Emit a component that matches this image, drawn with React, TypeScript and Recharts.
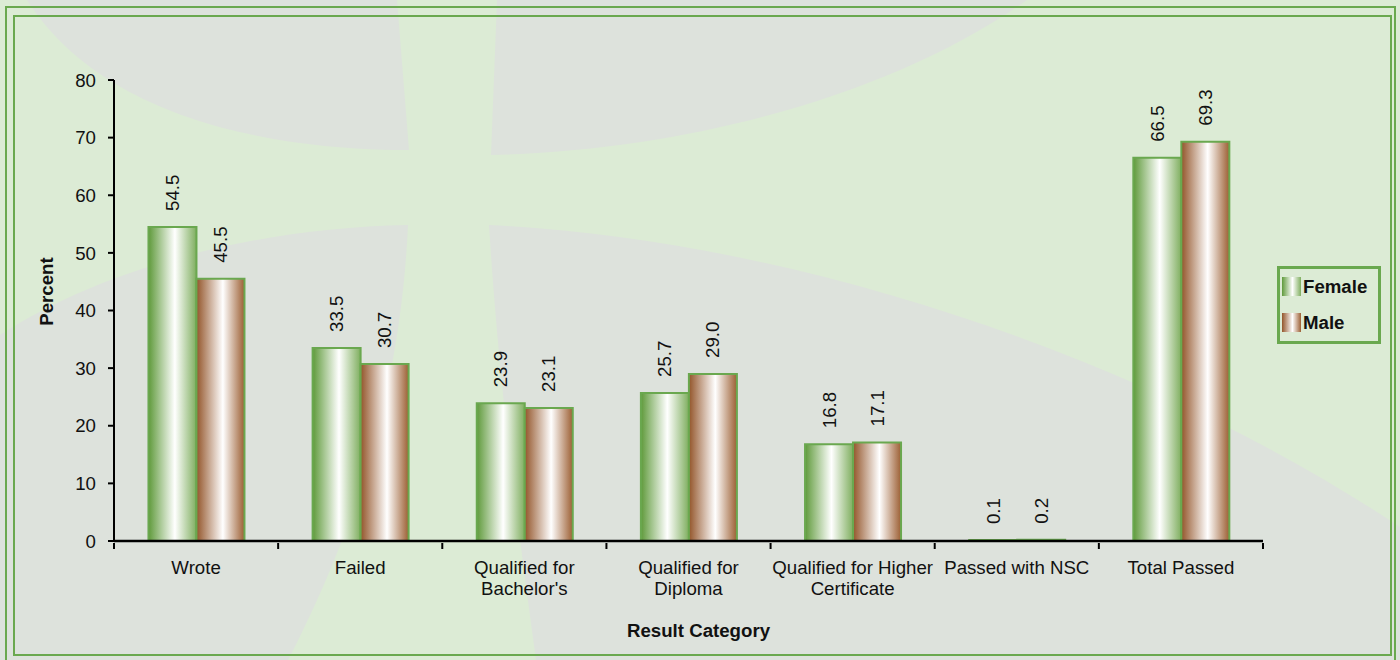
import React from 'react';
import { BarChart, Bar, XAxis, YAxis, Legend, LabelList, Label } from 'recharts';

const categories = [
  'Wrote',
  'Failed',
  "Qualified for\nBachelor's",
  'Qualified for\nDiploma',
  'Qualified for Higher\nCertificate',
  'Passed with NSC',
  'Total Passed',
];
const femaleValues = [54.5, 33.5, 23.9, 25.7, 16.8, 0.1, 66.5];
const maleValues = [45.5, 30.7, 23.1, 29.0, 17.1, 0.2, 69.3];
const yTicks = [0, 10, 20, 30, 40, 50, 60, 70, 80];

const W = 1400;
const H = 660;
const MARGIN = { top: 80, right: 137, left: 24, bottom: 19 };
const Y_AXIS_W = 90;
const X_AXIS_H = 100;
const PLOT_W = W - MARGIN.left - MARGIN.right - Y_AXIS_W;
const BAND = PLOT_W / categories.length;

const FRAME = '#6aa84f';
const FONT = '"Liberation Sans", Arial, sans-serif';
const FS = 18.67;

const data = categories.map((name, i) => ({ name, female: femaleValues[i], male: maleValues[i] }));

const gradients = {
  female: ['#5f9a3b', '#ffffff', '#7fae5f'],
  male: ['#93552a', '#ffffff', '#9c5f33'],
};

const CategoryTick = ({ x, y, payload, index }: any) => {
  const half = BAND / 2;
  const lines = String(payload.value).split('\n');
  return (
    <g>
      <line x1={x - half} y1={y} x2={x - half} y2={y + 6} stroke="#000" strokeWidth={2} />
      {index === categories.length - 1 && (
        <line x1={x + half} y1={y} x2={x + half} y2={y + 6} stroke="#000" strokeWidth={2} />
      )}
      <text x={x} y={y + 31} textAnchor="middle" fill="#111" fontSize={FS}>
        {lines.map((l, i) => (
          <tspan key={i} x={x} dy={i === 0 ? 0 : 21}>
            {l}
          </tspan>
        ))}
      </text>
    </g>
  );
};

const RotatedValue = (props: any) => {
  const { x, y, width, value } = props;
  const cx = Number(x) + Number(width) / 2;
  const ty = Number(y) - 16;
  return (
    <text
      x={cx}
      y={ty}
      dy="0.35em"
      textAnchor="start"
      fontSize={FS}
      fill="#111"
      transform={`rotate(-90 ${cx} ${ty})`}
    >
      {Number(value).toFixed(1)}
    </text>
  );
};

const PercentLabel = ({ viewBox }: any) => {
  const cx = viewBox.x + 22;
  const cy = viewBox.y + viewBox.height / 2 - 19;
  return (
    <text x={cx} y={cy} dy="0.35em" textAnchor="middle" fontWeight="bold" fontSize={FS} fill="#111"
      transform={`rotate(-90 ${cx} ${cy})`}>
      Percent
    </text>
  );
};

const CategoryLabel = ({ viewBox }: any) => (
  <text x={viewBox.x + viewBox.width / 2 + 10} y={630} dy="0.35em" textAnchor="middle"
    fontWeight="bold" fontSize={FS} fill="#111">
    Result Category
  </text>
);

const LegendBox = ({ payload }: any) => (
  <div style={{ width: 104, height: 78, boxSizing: 'border-box', border: `3px solid ${FRAME}`, paddingLeft: 2, paddingTop: 8 }}>
    {(payload || []).map((entry: any) => {
      const g = gradients[entry.dataKey as 'female' | 'male'];
      return (
        <div key={entry.value} style={{ display: 'flex', alignItems: 'center', height: 19, marginBottom: 17 }}>
          <span style={{ display: 'inline-block', width: 19, height: 19,
            background: `linear-gradient(to right, ${g[0]}, ${g[1]} 55%, ${g[2]})` }} />
          <span style={{ marginLeft: 2, fontWeight: 'bold', fontSize: FS, color: '#111' }}>{entry.value}</span>
        </div>
      );
    })}
  </div>
);

const Backdrop = () => (
  <svg width={W} height={H} style={{ position: 'absolute', left: 0, top: 0 }}>
    <rect x={0} y={0} width={W} height={H} fill="#dcebd5" />
    <g fill="#dde2dc">
      <path d="M 27 0 L 397 0 L 409 150 C 300 150, 110 130, 27 0 Z" />
      <path d="M 497 0 L 491 155 C 700 150, 900 90, 1027 0 Z" />
      <path d="M 408 225 C 250 228, 100 270, 0 335 L 0 660 L 288 660 C 350 540, 400 400, 408 225 Z" />
      <path d="M 489 225 C 800 240, 1150 360, 1400 527 L 1400 660 L 536 660 C 520 540, 500 400, 489 225 Z" />
    </g>
    <rect x={6} y={7} width={1389} height={670} fill="none" stroke={FRAME} strokeWidth={2} />
    <rect x={14} y={16} width={1377} height={639} fill="none" stroke={FRAME} strokeWidth={2} />
  </svg>
);

export default function App() {
  return (
    <div style={{ position: 'absolute', left: 0, top: 0, width: W, height: H, fontFamily: FONT, overflow: 'hidden' }}>
      <Backdrop />
      <BarChart width={W} height={H} data={data} margin={MARGIN} barGap={0} barCategoryGap="21%">
        <defs>
          {Object.entries(gradients).map(([key, g]) => (
            <linearGradient key={key} id={`grad-${key}`} x1="0" y1="0" x2="1" y2="0">
              <stop offset="0%" stopColor={g[0]} />
              <stop offset="55%" stopColor={g[1]} />
              <stop offset="100%" stopColor={g[2]} />
            </linearGradient>
          ))}
        </defs>
        <XAxis
          dataKey="name"
          height={X_AXIS_H}
          interval={0}
          tickSize={0}
          tickLine={false}
          tick={<CategoryTick />}
          axisLine={{ stroke: '#000', strokeWidth: 2.5 }}
        >
          <Label content={<CategoryLabel />} />
        </XAxis>
        <YAxis
          width={Y_AXIS_W}
          domain={[0, 80]}
          ticks={yTicks}
          interval={0}
          tickSize={6}
          tickMargin={12}
          tick={{ fill: '#111', fontSize: FS }}
          tickLine={{ stroke: '#000', strokeWidth: 2 }}
          axisLine={{ stroke: '#000', strokeWidth: 2 }}
        >
          <Label content={<PercentLabel />} />
        </YAxis>
        <Legend
          layout="vertical"
          align="center"
          verticalAlign="middle"
          content={<LegendBox />}
          wrapperStyle={{ left: 1277, top: 266, width: 104, height: 78 }}
        />
        <Bar dataKey="female" name="Female" fill="url(#grad-female)" stroke={FRAME} strokeWidth={2}
          minPointSize={1} isAnimationActive={false}>
          <LabelList dataKey="female" content={<RotatedValue />} />
        </Bar>
        <Bar dataKey="male" name="Male" fill="url(#grad-male)" stroke={FRAME} strokeWidth={2}
          minPointSize={1} isAnimationActive={false}>
          <LabelList dataKey="male" content={<RotatedValue />} />
        </Bar>
      </BarChart>
    </div>
  );
}
